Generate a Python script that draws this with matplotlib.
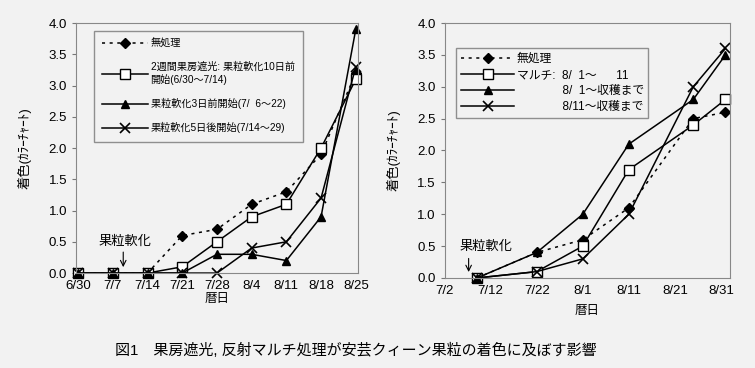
import matplotlib
matplotlib.use('Agg')
import matplotlib.pyplot as plt

plt.rcParams['font.family'] = ['Liberation Sans', 'Noto Sans CJK JP', 'DejaVu Sans']

# left chart: bunch shading
left_dates = ['6/30', '7/7', '7/14', '7/21', '7/28', '8/4', '8/11', '8/18', '8/25']
left_none = [0, 0, 0, 0.6, 0.7, 1.1, 1.3, 1.9, 3.2]
left_2week = [0, 0, 0, 0.1, 0.5, 0.9, 1.1, 2.0, 3.1]
left_3before = [0, 0, 0, 0, 0.3, 0.3, 0.2, 0.9, 3.9]
left_5after = [0, 0, 0, 0, 0, 0.4, 0.5, 1.2, 3.3]

# right chart: reflective mulch (days after 7/2)
right_tick_labels = ['7/2', '7/12', '7/22', '8/1', '8/11', '8/21', '8/31']
right_tick_days = [0, 10, 20, 30, 40, 50, 60]
right_days = [7, 20, 30, 40, 54, 61]
right_none = [0, 0.4, 0.6, 1.1, 2.5, 2.6]
right_mulch_short = [0, 0.1, 0.5, 1.7, 2.4, 2.8]
right_mulch_0801 = [0, 0.4, 1.0, 2.1, 2.8, 3.5]
right_mulch_0811 = [0, 0.1, 0.3, 1.0, 3.0, 3.6]

bg = '#f2f2f2'
fig = plt.figure(figsize=(7.55, 3.68), dpi=100, facecolor=bg)
ax1 = fig.add_axes([0.1007, 0.258, 0.3733, 0.6795])
ax2 = fig.add_axes([0.589, 0.2446, 0.378, 0.6929])

dot = (0, (2, 3))
lw = 1.1

# ---- left
x = list(range(len(left_dates)))
ax1.plot(x, left_none, color='black', ls=dot, lw=lw, marker='D', ms=5,
         label='無処理')
ax1.plot(x, left_2week, color='black', lw=lw, marker='s', ms=7, mfc='white',
         label='2週間果房遮光: 果粒軟化10日前\n開始(6/30～7/14)')
ax1.plot(x, left_3before, color='black', lw=lw, marker='^', ms=6,
         label='果粒軟化3日前開始(7/  6～22)')
ax1.plot(x, left_5after, color='black', lw=lw, marker='x', ms=7, mew=1.2,
         label='果粒軟化5日後開始(7/14～29)')
ax1.set_xlim(-0.06, 8.06)
ax1.set_xticks(x)
ax1.set_xticklabels(left_dates)
ax1.set_xlabel('暦日', fontsize=9, labelpad=1)
ax1.legend(loc='upper left', bbox_to_anchor=(0.045, 0.99), fontsize=7.3,
           handlelength=4.5, labelspacing=1.3, frameon=True,
           fancybox=False, edgecolor='#777777', facecolor=bg,
           borderpad=0.8, handletextpad=0.3)
ax1.annotate('', xy=(1.3, 0.05), xytext=(1.3, 0.38),
             arrowprops=dict(arrowstyle='->', color='black', lw=0.8))
ax1.text(1.35, 0.5, '果粒軟化', ha='center', va='center', fontsize=9.5)

# ---- right
ax2.plot(right_days, right_none, color='black', ls=dot, lw=lw, marker='D', ms=5,
         label='無処理')
ax2.plot(right_days, right_mulch_short, color='black', lw=lw, marker='s', ms=7,
         mfc='white', label='マルチ:  8/  1～      11')
ax2.plot(right_days, right_mulch_0801, color='black', lw=lw, marker='^', ms=6,
         label='              8/  1～収穫まで')
ax2.plot(right_days, right_mulch_0811, color='black', lw=lw, marker='x', ms=7,
         mew=1.2, label='              8/11～収穫まで')
ax2.set_xlim(0, 62)
ax2.set_xticks(right_tick_days)
ax2.set_xticklabels(right_tick_labels)
ax2.set_xlabel('暦日', fontsize=9, labelpad=6)
ax2.legend(loc='upper left', bbox_to_anchor=(0.02, 0.925), fontsize=8.5,
           handlelength=4.5, labelspacing=0.35, frameon=True,
           fancybox=False, edgecolor='#777777', facecolor=bg,
           borderpad=0.4, handletextpad=0.2)
ax2.annotate('', xy=(5.2, 0.05), xytext=(5.2, 0.35),
             arrowprops=dict(arrowstyle='->', color='black', lw=0.8))
ax2.text(8.9, 0.49, '果粒軟化', ha='center', va='center', fontsize=9.5)

for ax in (ax1, ax2):
    ax.set_facecolor(bg)
    ax.set_ylim(0, 4.0)
    ax.set_yticks([0, 0.5, 1.0, 1.5, 2.0, 2.5, 3.0, 3.5, 4.0])
    ax.set_yticklabels(['%.1f' % v for v in ax.get_yticks()])
    ax.set_ylabel('着色(ｶﾗｰﾁｬｰﾄ)', fontsize=9.5, labelpad=12)
    ax.tick_params(axis='both', labelsize=9.5, length=3, color='#777777')
    ax.tick_params(axis='x', length=0, pad=5)
    for s in ax.spines.values():
        s.set_color('#888888')
        s.set_linewidth(0.8)
    for line in ax.get_lines():
        line.set_clip_on(False)

fig.text(0.152, 0.049, '図1　果房遮光, 反射マルチ処理が安芸クィーン果粒の着色に及ぼす影響',
         fontsize=10.8, ha='left', va='center')

fig.savefig('out.png', dpi=100, facecolor=bg)
